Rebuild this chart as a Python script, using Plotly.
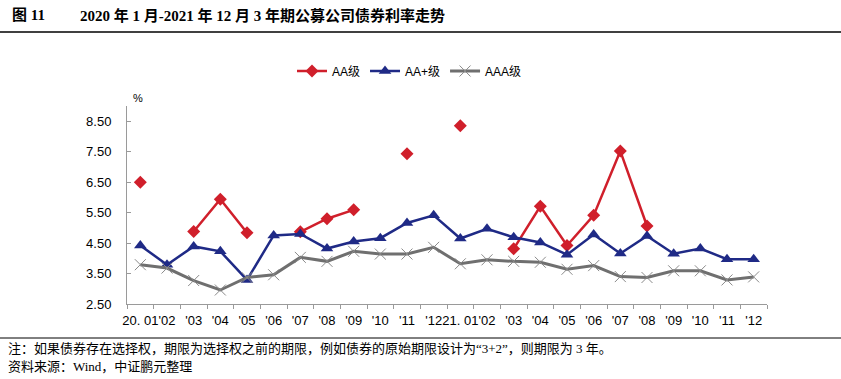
import plotly.graph_objects as go

months = [f"2020-{m:02d}" for m in range(1, 13)] + [f"2021-{m:02d}" for m in range(1, 13)]
tick_labels = ["20. 01", "'02", "'03", "'04", "'05", "'06", "'07", "'08", "'09", "'10", "'11", "'12",
               "21. 01", "'02", "'03", "'04", "'05", "'06", "'07", "'08", "'09", "'10", "'11", "'12"]

aa = [6.50, None, 4.88, 5.94, 4.84, None, 4.87, 5.30, 5.59, None, 7.43, None,
      8.35, None, 4.31, 5.71, 4.42, 5.41, 7.52, 5.06, None, None, None, None]
aa_plus = [4.42, 3.79, 4.39, 4.23, 3.29, 4.75, 4.80, 4.32, 4.55, 4.66, 5.16, 5.41,
           4.65, 4.97, 4.69, 4.52, 4.12, 4.78, 4.16, 4.73, 4.15, 4.32, 3.97, 3.97]
aaa = [3.79, 3.68, 3.27, 2.96, 3.37, 3.46, 4.03, 3.90, 4.23, 4.14, 4.14, 4.36,
       3.82, 3.95, 3.90, 3.87, 3.64, 3.76, 3.40, 3.37, 3.59, 3.59, 3.29, 3.39]
y_ticks = [2.5, 3.5, 4.5, 5.5, 6.5, 7.5, 8.5]

W, H = 841, 379
L, R, T, B = 127, 74, 106, 75
PW, PH = W - L - R, H - T - B


def px_x(x):
    return (x - L) / PW


def px_y(y):
    return (H - B - y) / PH


fig = go.Figure()
fig.add_trace(go.Scatter(x=months, y=aa, name="AA级", mode="lines+markers",
                         line=dict(color="#d01f2b", width=2.5),
                         marker=dict(symbol="diamond", size=10, color="#d01f2b"),
                         connectgaps=False))
fig.add_trace(go.Scatter(x=months, y=aa_plus, name="AA+级", mode="lines+markers",
                         line=dict(color="#1f2a86", width=2.5),
                         marker=dict(symbol="triangle-up", size=11, color="#1f2a86")))
fig.add_trace(go.Scatter(x=months, y=aaa, name="AAA级", mode="lines+markers",
                         line=dict(color="#6f6f6f", width=3),
                         marker=dict(symbol="x-thin", size=11, line=dict(color="#8a8a8a", width=1))))

sans = "Liberation Sans, Noto Sans CJK SC, sans-serif"
serif_cjk = "Liberation Serif, Noto Sans CJK SC, serif"

fig.update_layout(
    width=W, height=H,
    margin=dict(l=L, r=R, t=T, b=B),
    paper_bgcolor="white", plot_bgcolor="white",
    font=dict(family=sans, size=12, color="black"),
    showlegend=True,
    legend=dict(orientation="h", x=px_x(292), y=px_y(71), xanchor="left", yanchor="middle",
                font=dict(size=12, family=sans), itemwidth=30, bgcolor="rgba(0,0,0,0)"),
    xaxis=dict(type="category", categoryorder="array", categoryarray=months,
               tickmode="array", tickvals=months, ticktext=tick_labels,
               ticks="outside", tickson="boundaries", ticklen=4, tickcolor="#9a9a9a",
               showline=True, linecolor="#9a9a9a", linewidth=1, showgrid=False,
               tickfont=dict(size=13, family="Liberation Sans Narrow, Liberation Sans, sans-serif"),
               tickangle=0, range=[-0.5, 23.5], ticklabelstandoff=4),
    yaxis=dict(range=[2.5, 9.0], tickmode="array", tickvals=y_ticks,
               ticktext=[f"{v:.2f}" for v in y_ticks],
               ticks="inside", ticklen=4, tickcolor="#9a9a9a",
               showline=True, linecolor="#9a9a9a", linewidth=1, showgrid=False, zeroline=False,
               tickfont=dict(size=13), ticklabelstandoff=12),
)

fig.add_annotation(x=0.0, y=1.0, xref="x domain", yref="y domain", text="%", showarrow=False,
                   xanchor="left", yanchor="bottom", xshift=4, font=dict(size=11))

fig.add_annotation(x=px_x(10), y=px_y(15), xref="paper", yref="paper",
                   text="<b>图 11</b>", showarrow=False, xanchor="left", yanchor="middle",
                   font=dict(size=15, family=serif_cjk))
fig.add_annotation(x=px_x(78), y=px_y(15), xref="paper", yref="paper",
                   text="<b>2020 年 1 月-2021 年 12 月 3 年期公募公司债券利率走势</b>", showarrow=False,
                   xanchor="left", yanchor="middle", font=dict(size=15, family=serif_cjk))
fig.add_annotation(x=px_x(6), y=px_y(348), xref="paper", yref="paper",
                   text="注：如果债券存在选择权，期限为选择权之前的期限，例如债券的原始期限设计为“3+2”，则期限为 3 年。",
                   showarrow=False, xanchor="left", yanchor="middle", font=dict(size=13, family=serif_cjk))
fig.add_annotation(x=px_x(6), y=px_y(366), xref="paper", yref="paper",
                   text="资料来源：Wind，中证鹏元整理",
                   showarrow=False, xanchor="left", yanchor="middle", font=dict(size=13, family=serif_cjk))

fig.add_shape(type="line", xref="paper", yref="paper", x0=px_x(0), x1=px_x(W),
              y0=px_y(32), y1=px_y(32), line=dict(color="black", width=1.5))
fig.add_shape(type="line", xref="paper", yref="paper", x0=px_x(0), x1=px_x(W),
              y0=px_y(338), y1=px_y(338), line=dict(color="black", width=1))

fig.write_html("out.html", config={"displayModeBar": False},
               post_script="document.body.style.margin='0';document.body.style.overflow='hidden';")
